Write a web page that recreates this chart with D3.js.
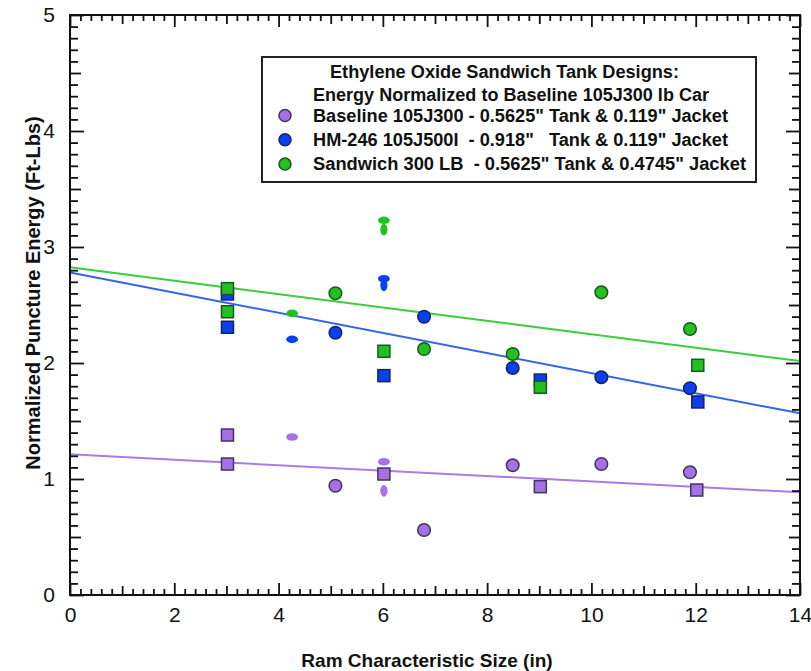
<!DOCTYPE html>
<html><head><meta charset="utf-8">
<script src="https://cdn.jsdelivr.net/npm/d3@7"></script>
<style>
body{margin:0;background:#fff;}
svg text{font-family:"Liberation Sans",Arial,Helvetica,sans-serif;}
</style></head>
<body><svg id="c" width="811" height="671"></svg>
<script>
// ---- data ----
const seriesNames = ["Baseline 105J300 - 0.5625\" Tank & 0.119\" Jacket",
  "HM-246 105J500I  - 0.918\"   Tank & 0.119\" Jacket",
  "Sandwich 300 LB  - 0.5625\" Tank & 0.4745\" Jacket"];
const legendTitle = ["Ethylene Oxide Sandwich Tank Designs:", "Energy Normalized to Baseline 105J300 lb Car"];
// circles
const circleX = [5.09, 6.79, 8.49, 10.19, 11.89];
const baseCircleY = [0.942, 0.560, 1.118, 1.129, 1.058];
const hmCircleY = [2.261, 2.399, 1.957, 1.877, 1.782];
const sandCircleY = [2.601, 2.121, 2.078, 2.609, 2.293];
// squares
const baseSquareX = [3.02, 3.02, 6.02, 9.02, 12.02];
const baseSquareY = [1.379, 1.129, 1.043, 0.934, 0.905];
const hmSquareX = [3.02, 3.02, 6.02, 9.02, 12.04];
const hmSquareY = [2.595, 2.308, 1.891, 1.853, 1.664];
const sandSquareX = [3.02, 3.02, 6.02, 9.02, 12.04];
const sandSquareY = [2.641, 2.442, 2.101, 1.791, 1.980];
// smeared (flat / tall) point marks
const baseFlatX = [4.26, 6.02], baseFlatY = [1.362, 1.149];
const baseTallX = [6.02], baseTallY = [0.898];
const hmFlatX = [4.26, 6.02], hmFlatY = [2.204, 2.726];
const hmTallX = [6.02], hmTallY = [2.670];
const sandFlatX = [4.26, 6.02], sandFlatY = [2.428, 3.230];
const sandTallX = [6.02], sandTallY = [3.150];
// fit lines (x=0 and x=14 values)
const fitX = [0, 14];
const baseFitY = [1.213, 0.885];
const hmFitY = [2.780, 1.566];
const sandFitY = [2.825, 2.017];
// axes
const xTicks = [0, 2, 4, 6, 8, 10, 12, 14];
const yTicks = [0, 1, 2, 3, 4, 5];
const xTitle = "Ram Characteristic Size (in)";
const yTitle = "Normalized Puncture Energy (Ft-Lbs)";

// ---- styles ----
const fills = ["#a571e6", "#0a40f0", "#1fc21f"];
const strokes = ["#45325e", "#17245c", "#1f561f"];
const lineCols = ["#a87ee0", "#3366e6", "#3ccc3c"];

const svg = d3.select("#c");
const x = d3.scaleLinear().domain([0, 14]).range([70, 800]);
const y = d3.scaleLinear().domain([0, 5]).range([595, 15]);

// fit lines
const fits = [baseFitY, hmFitY, sandFitY];
const line = d3.line().x(d => x(d[0])).y(d => y(d[1]));
fits.forEach((f, i) => {
  svg.append("path").datum(fitX.map((v, k) => [v, f[k]]))
    .attr("d", line).attr("fill", "none").attr("stroke", lineCols[i]).attr("stroke-width", 2);
});

// points
const sets = [
  {cx: circleX, cy: baseCircleY, sx: baseSquareX, sy: baseSquareY, fx: baseFlatX, fy: baseFlatY, tx: baseTallX, ty: baseTallY},
  {cx: circleX, cy: hmCircleY, sx: hmSquareX, sy: hmSquareY, fx: hmFlatX, fy: hmFlatY, tx: hmTallX, ty: hmTallY},
  {cx: circleX, cy: sandCircleY, sx: sandSquareX, sy: sandSquareY, fx: sandFlatX, fy: sandFlatY, tx: sandTallX, ty: sandTallY}
];
sets.forEach((s, i) => {
  const g = svg.append("g");
  g.selectAll("ellipse.t").data(s.tx.map((v, k) => [v, s.ty[k]])).join("ellipse")
    .attr("cx", d => x(d[0])).attr("cy", d => y(d[1])).attr("rx", 3.6).attr("ry", 5.8)
    .attr("fill", fills[i]);
  g.selectAll("ellipse.f").data(s.fx.map((v, k) => [v, s.fy[k]])).join("ellipse")
    .attr("cx", d => x(d[0])).attr("cy", d => y(d[1])).attr("rx", 5.9).attr("ry", 3.8)
    .attr("fill", fills[i]);
  g.selectAll("rect").data(s.sx.map((v, k) => [v, s.sy[k]])).join("rect")
    .attr("x", d => x(d[0]) - 6).attr("y", d => y(d[1]) - 6).attr("width", 12).attr("height", 12)
    .attr("fill", fills[i]).attr("stroke", strokes[i]).attr("stroke-width", 1.5);
  g.selectAll("circle").data(s.cx.map((v, k) => [v, s.cy[k]])).join("circle")
    .attr("cx", d => x(d[0])).attr("cy", d => y(d[1])).attr("r", 6.3)
    .attr("fill", fills[i]).attr("stroke", strokes[i]).attr("stroke-width", 1.5);
});

// axes: ticks on all four sides pointing inward
const xMinor = d3.range(0, 70).map(k => k * 0.2).filter(v => Math.abs(v - Math.round(v)) > 1e-6);
const xOdd = [1, 3, 5, 7, 9, 11, 13];
const yMinor = d3.range(0, 50).map(k => k / 10).filter(v => Math.abs(v * 2 - Math.round(v * 2)) > 1e-6);
const yHalf = [0.5, 1.5, 2.5, 3.5, 4.5];

function addAxis(gen, scale, transform, values, size) {
  const a = gen(scale).tickValues(values).tickSizeInner(-size).tickSizeOuter(0).tickFormat("");
  const g = svg.append("g").attr("transform", transform).call(a);
  g.selectAll(".domain").remove();
  g.selectAll("line").attr("stroke", "#111").attr("stroke-width", 1.8);
  return g;
}
// bottom
addAxis(d3.axisBottom, x, "translate(0,595)", xMinor, 6);
addAxis(d3.axisBottom, x, "translate(0,595)", xOdd, 9);
addAxis(d3.axisBottom, x, "translate(0,595)", xTicks, 12);
// top
addAxis(d3.axisTop, x, "translate(0,15)", xMinor, 6);
addAxis(d3.axisTop, x, "translate(0,15)", xOdd, 9);
addAxis(d3.axisTop, x, "translate(0,15)", xTicks, 12);
// left
addAxis(d3.axisLeft, y, "translate(70,0)", yMinor, 8);
addAxis(d3.axisLeft, y, "translate(70,0)", yHalf, 11);
addAxis(d3.axisLeft, y, "translate(70,0)", yTicks, 14);
// right
addAxis(d3.axisRight, y, "translate(800,0)", yMinor, 8);
addAxis(d3.axisRight, y, "translate(800,0)", yHalf, 11);
addAxis(d3.axisRight, y, "translate(800,0)", yTicks, 14);

// tick labels
const lx = d3.axisBottom(x).tickValues(xTicks).tickSize(0).tickPadding(12).tickFormat(d3.format("d"));
const glx = svg.append("g").attr("transform", "translate(0,595)").call(lx);
glx.select(".domain").remove();
glx.selectAll("text").attr("font-size", 21).attr("fill", "#111").attr("font-family", "Liberation Sans, Arial, sans-serif");
const ly = d3.axisLeft(y).tickValues(yTicks).tickSize(0).tickPadding(15).tickFormat(d3.format("d"));
const gly = svg.append("g").attr("transform", "translate(70,0)").call(ly);
gly.select(".domain").remove();
gly.selectAll("text").attr("font-size", 21).attr("fill", "#111").attr("font-family", "Liberation Sans, Arial, sans-serif");

// frame
svg.append("rect").attr("x", 70).attr("y", 15).attr("width", 730).attr("height", 580)
  .attr("fill", "none").attr("stroke", "#111").attr("stroke-width", 2);

// axis titles
svg.append("text").attr("x", 427).attr("y", 667).attr("text-anchor", "middle")
  .attr("font-size", 19).attr("font-weight", "bold").attr("fill", "#111").text(xTitle);
svg.append("text").attr("transform", "translate(40,293) rotate(-90)").attr("text-anchor", "middle")
  .attr("font-size", 20).attr("font-weight", "bold").attr("fill", "#111").text(yTitle);

// legend
svg.append("rect").attr("x", 262).attr("y", 57).attr("width", 494).attr("height", 125)
  .attr("fill", "#fff").attr("stroke", "#222").attr("stroke-width", 2);
const tw = [349, 396];
const tx0 = [330, 313];
const ty0 = [78, 101];
legendTitle.forEach((t, i) => {
  svg.append("text").attr("x", tx0[i]).attr("y", ty0[i]).attr("font-size", 17.5).attr("font-weight", "bold")
    .attr("fill", "#111").attr("textLength", tw[i]).attr("lengthAdjust", "spacingAndGlyphs").text(t);
});
const ew = [415, 415, 433];
seriesNames.forEach((t, i) => {
  const cy = 115.5 + i * 24.3;
  svg.append("circle").attr("cx", 285).attr("cy", cy).attr("r", 6)
    .attr("fill", fills[i]).attr("stroke", strokes[i]).attr("stroke-width", 1.5);
  svg.append("text").attr("x", 313).attr("y", cy + 6.3).attr("font-size", 17.5).attr("font-weight", "bold")
    .attr("fill", "#111").style("white-space", "pre")
    .attr("textLength", ew[i]).attr("lengthAdjust", "spacingAndGlyphs").text(t);
});
</script></body></html>
